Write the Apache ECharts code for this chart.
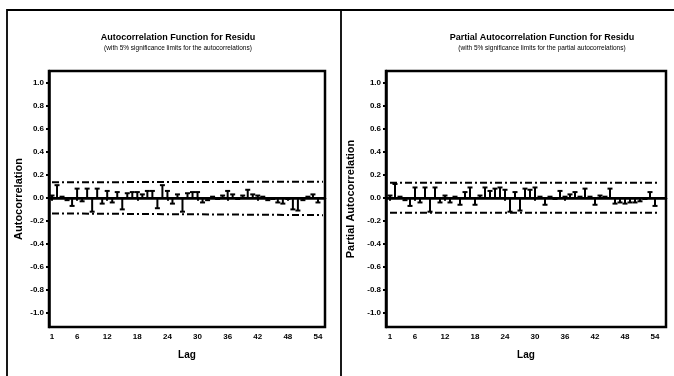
<!DOCTYPE html>
<html>
<head>
<meta charset="utf-8">
<script src="https://cdn.jsdelivr.net/npm/echarts@6/dist/echarts.min.js"></script>
<style>
  html, body { margin: 0; background: #fff; }
  #chart { width: 674px; height: 376px; }
</style>
</head>
<body>
<div id="chart"></div>
<script>
// lags shown on both plots
const lags = [1, 2, 3, 4, 5, 6, 7, 8, 9, 10, 11, 12, 13, 14, 15, 16, 17, 18,
  19, 20, 21, 22, 23, 24, 25, 26, 27, 28, 29, 30, 31, 32, 33, 34, 35, 36,
  37, 38, 39, 40, 41, 42, 43, 44, 45, 46, 47, 48, 49, 50, 51, 52, 53, 54]

// values (rough)
const acf = [0.02, 0.11, 0.01, -0.02, -0.07, 0.08, -0.03, 0.08, -0.12, 0.08,
  -0.05, 0.06, -0.04, 0.05, -0.10, 0.04, 0.05, 0.05, 0.03, 0.06,
  0.06, -0.09, 0.11, 0.06, -0.05, 0.03, -0.12, 0.04, 0.05, 0.05,
  -0.04, -0.02, 0.01, -0.01, 0.02, 0.06, 0.03, -0.01, 0.02, 0.07,
  0.03, 0.02, 0.01, -0.02, -0.01, -0.04, -0.05, -0.01, -0.10, -0.11,
  -0.02, 0.01, 0.03, -0.04]

const pacf = [0.02, 0.12, 0.01, -0.02, -0.07, 0.09, -0.04, 0.09, -0.12, 0.09,
  -0.04, 0.02, -0.04, 0.01, -0.06, 0.05, 0.09, -0.06, 0.02, 0.09,
  0.06, 0.08, 0.09, 0.07, -0.12, 0.05, -0.11, 0.08, 0.07, 0.09,
  0.01, -0.06, 0.01, -0.01, 0.06, 0.01, 0.03, 0.05, 0.01, 0.08,
  0.01, -0.06, 0.02, 0.01, 0.08, -0.05, -0.04, -0.05, -0.04, -0.04,
  -0.03, -0.01, 0.05, -0.07]

// significance limits (start / end of the dash-dot lines)
const acfUpper = [[1, 0.135], [55, 0.14]]
const acfLower = [[1, -0.135], [55, -0.15]]
const pacfUpper = [[1, 0.13], [55, 0.13]]
const pacfLower = [[1, -0.13], [55, -0.13]]

const xTicks = [1, 6, 12, 18, 24, 30, 36, 42, 48, 54]
const yTicks = [-1.0, -0.8, -0.6, -0.4, -0.2, 0.0, 0.2, 0.4, 0.6, 0.8, 1.0]

const font = 'Liberation Sans'
const ink = '#000'

function stem(params, api) {
  const base = api.coord([api.value(0), 0])
  const tip = api.coord([api.value(0), api.value(1)])
  const st = { stroke: ink, lineWidth: 2 }
  return {
    type: 'group',
    children: [
      { type: 'line', shape: { x1: base[0], y1: base[1], x2: tip[0], y2: tip[1] }, style: st },
      { type: 'line', shape: { x1: tip[0] - 2.5, y1: tip[1], x2: tip[0] + 2.5, y2: tip[1] }, style: st }
    ]
  }
}

function xAxis(idx, min, max) {
  return {
    type: 'value',
    gridIndex: idx,
    min: min,
    max: max,
    name: 'Lag',
    nameLocation: 'middle',
    nameGap: 23,
    nameTextStyle: { fontFamily: font, fontWeight: 'bold', fontSize: 10, color: ink },
    axisLine: { show: true, lineStyle: { color: ink, width: 2.5 } },
    axisTick: { show: true, customValues: xTicks, length: 3, lineStyle: { color: ink, width: 2 } },
    axisLabel: { customValues: xTicks, margin: 6, fontFamily: font, fontWeight: 'bold', fontSize: 8, color: ink },
    splitLine: { show: false }
  }
}

function yAxis(idx, name, gap) {
  return {
    type: 'value',
    gridIndex: idx,
    min: -1.12,
    max: 1.1,
    name: name,
    nameLocation: 'middle',
    nameGap: gap,
    nameTextStyle: { fontFamily: font, fontWeight: 'bold', fontSize: 11, color: ink },
    axisLine: { show: true, lineStyle: { color: ink, width: 2.5 } },
    axisTick: { show: true, customValues: yTicks, length: 3, lineStyle: { color: ink, width: 2 } },
    axisLabel: {
      customValues: yTicks, margin: 5, fontFamily: font, fontWeight: 'bold', fontSize: 8, color: ink,
      formatter: v => v.toFixed(1)
    },
    splitLine: { show: false }
  }
}

function limit(idx, data) {
  return {
    type: 'line',
    xAxisIndex: idx,
    yAxisIndex: idx,
    data: data,
    symbol: 'none',
    silent: true,
    lineStyle: { color: ink, width: 2, type: [7, 3, 2, 3] },
    z: 1
  }
}

function stems(idx, vals) {
  return {
    type: 'custom',
    xAxisIndex: idx,
    yAxisIndex: idx,
    renderItem: stem,
    data: lags.map((l, i) => [l, vals[i]]),
    silent: true,
    markLine: {
      silent: true,
      symbol: 'none',
      label: { show: false },
      lineStyle: { color: ink, width: 2, type: 'solid' },
      data: [{ yAxis: 0 }]
    },
    z: 3
  }
}

const chart = echarts.init(document.getElementById('chart'))
chart.setOption({
  animation: false,
  backgroundColor: '#fff',
  title: [
    {
      text: 'Autocorrelation Function for Residu',
      subtext: '(with 5% significance limits for the autocorrelations)',
      left: 173, top: 28, textAlign: 'center', itemGap: 3,
      textStyle: { fontFamily: font, fontWeight: 'bold', fontSize: 9, color: ink },
      subtextStyle: { fontFamily: font, fontSize: 6.5, color: ink }
    },
    {
      text: 'Partial Autocorrelation Function for Residu',
      subtext: '(with 5% significance limits for the partial autocorrelations)',
      left: 537, top: 28, textAlign: 'center', itemGap: 3,
      textStyle: { fontFamily: font, fontWeight: 'bold', fontSize: 9, color: ink },
      subtextStyle: { fontFamily: font, fontSize: 6.5, color: ink }
    }
  ],
  grid: [
    { left: 49, top: 71, width: 276, height: 256, show: true, borderColor: ink, borderWidth: 2.5 },
    { left: 386, top: 71, width: 280, height: 256, show: true, borderColor: ink, borderWidth: 2.5 }
  ],
  xAxis: [xAxis(0, 0.4, 55.4), xAxis(1, 0.2, 56.2)],
  yAxis: [yAxis(0, 'Autocorrelation', 25), yAxis(1, 'Partial Autocorrelation', 30)],
  series: [
    limit(0, acfUpper), limit(0, acfLower), stems(0, acf),
    limit(1, pacfUpper), limit(1, pacfLower), stems(1, pacf)
  ],
  graphic: [
    { type: 'polyline', silent: true, shape: { points: [[7, 376], [7, 10], [674, 10]] },
      style: { stroke: ink, fill: null, lineWidth: 1.8 } },
    { type: 'line', silent: true, shape: { x1: 341, y1: 10, x2: 341, y2: 376 },
      style: { stroke: ink, lineWidth: 1.8 } }
  ]
})
</script>
</body>
</html>
